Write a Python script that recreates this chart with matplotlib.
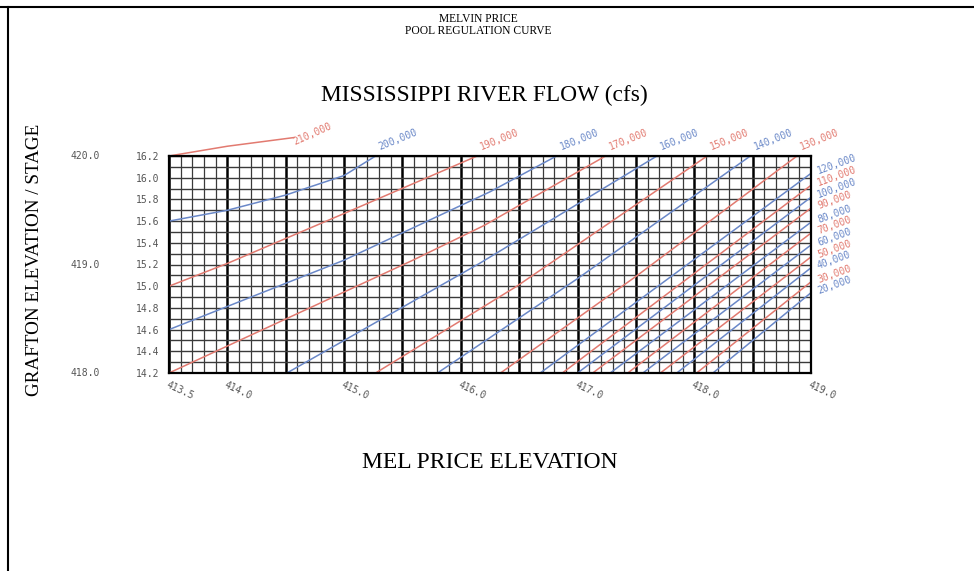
import numpy as np
import matplotlib
matplotlib.use("Agg")
import matplotlib.pyplot as plt
import matplotlib.transforms as mtransforms
from matplotlib.lines import Line2D

# flow curves (cfs): Mel Price elevation vs Grafton stage
flows = [210000, 200000, 190000, 180000, 170000, 160000, 150000, 140000, 130000,
         120000, 110000, 100000, 90000, 80000, 70000, 60000, 50000, 40000, 30000, 20000]
curve_elev = [
    [413.5, 414.0, 414.57],
    [413.5, 414.0, 414.5, 415.0, 415.27],
    [413.5, 414.0, 415.0, 416.14],
    [413.5, 415.0, 416.25, 416.82],
    [413.5, 415.59, 416.2, 417.24],
    [414.51, 416.16, 417.68],
    [415.27, 416.48, 418.11],
    [415.80, 417.0, 418.48],
    [416.34, 417.5, 418.88],
    [416.68, 419.0],
    [416.87, 419.0],
    [417.00, 419.0],
    [417.13, 419.0],
    [417.28, 419.0],
    [417.43, 419.0],
    [417.56, 419.0],
    [417.71, 419.0],
    [417.85, 419.0],
    [418.02, 419.0],
    [418.16, 419.0],
]
curve_stage = [
    [16.20, 16.29, 16.37],
    [15.60, 15.70, 15.84, 16.02, 16.20],
    [15.00, 15.21, 15.67, 16.20],
    [14.60, 15.24, 15.87, 16.20],
    [14.20, 15.24, 15.56, 16.20],
    [14.20, 15.21, 16.20],
    [14.20, 15.00, 16.20],
    [14.20, 15.07, 16.20],
    [14.20, 15.09, 16.20],
    [14.20, 16.04],
    [14.20, 15.93],
    [14.20, 15.82],
    [14.20, 15.72],
    [14.20, 15.59],
    [14.20, 15.49],
    [14.20, 15.38],
    [14.20, 15.27],
    [14.20, 15.17],
    [14.20, 15.04],
    [14.20, 14.94],
]

stage_ticks = [14.2, 14.4, 14.6, 14.8, 15.0, 15.2, 15.4, 15.6, 15.8, 16.0, 16.2]
elev_ticks = [413.5, 414.0, 415.0, 416.0, 417.0, 418.0, 419.0]
grafton_elev = [418.0, 419.0, 420.0]
grafton_stage = [14.2, 15.2, 16.2]

red = "#e27a70"
blue = "#6a88c8"
mono = "DejaVu Sans Mono"
serif = "Liberation Serif"

fig = plt.figure(figsize=(9.74, 5.71), dpi=100)
fig.patch.set_facecolor("white")
ax = fig.add_axes([169/974, 1-373/571, 642/974, 217/571])
ax.set_xlim(413.5, 419.0)
ax.set_ylim(14.2, 16.2)

# graph-paper grid
for x in np.arange(413.5, 419.001, 0.1):
    major = abs((x*2) - round(x*2)) < 1e-6
    ax.axvline(x, color="black" if major else "#3a3a3a",
               lw=1.8 if major else 0.9, zorder=1)
for y in np.arange(14.2, 16.201, 0.1):
    ax.axhline(y, color="#3a3a3a", lw=1.0, zorder=1)

for i, (q, xs, ys) in enumerate(zip(flows, curve_elev, curve_stage)):
    col = red if i % 2 == 0 else blue
    ax.plot(xs, ys, color=col, lw=1.1, zorder=3, clip_on=False)
    lab = f"{q:,}"
    if xs[-1] >= 419.0:
        off, rot = (6, -2), 20
    elif ys[-1] > 16.2:
        off, rot = (1, -7), 24
    else:
        off, rot = (4, 3), 22
    ax.annotate(lab, (xs[-1], ys[-1]), xytext=off, textcoords="offset points",
                color=col, fontsize=7, family=mono, rotation=rot,
                rotation_mode="anchor", ha="left", va="bottom",
                annotation_clip=False)

for s in ax.spines.values():
    s.set_linewidth(1.6)
    s.set_color("black")
    s.set_zorder(4)

ax.set_yticks(stage_ticks)
ax.set_yticklabels([f"{v:.1f}" for v in stage_ticks], family=mono, fontsize=7, color="#555555")
ax.set_xticks(elev_ticks)
ax.set_xticklabels([f"{v:.1f}" for v in elev_ticks], family=mono, fontsize=7, color="#555555",
                   rotation=-25, rotation_mode="anchor", ha="left", va="top")
ax.tick_params(axis="y", length=0, pad=7)
ax.tick_params(axis="x", length=0, pad=5)

trans = mtransforms.blended_transform_factory(ax.transAxes, ax.transData)
for e, s in zip(grafton_elev, grafton_stage):
    ax.text(-0.107, s, f"{e:.1f}", transform=trans, ha="right", va="center",
            family=mono, fontsize=7, color="#555555")

fig.text(478/974, 1-19/571, "MELVIN PRICE", ha="center", va="center", family=serif, fontsize=8.3)
fig.text(478/974, 1-31/571, "POOL REGULATION CURVE", ha="center", va="center", family=serif, fontsize=8.3)
fig.text(484/974, 1-95/571, "MISSISSIPPI RIVER FLOW (cfs)", ha="center", va="center",
         family=serif, fontsize=16.8)
fig.text(35/974, 1-260/571, "GRAFTON ELEVATION / STAGE", ha="center", va="center",
         family=serif, fontsize=13.8, rotation=90)
fig.text(490/974, 1-462/571, "MEL PRICE ELEVATION", ha="center", va="center",
         family=serif, fontsize=17)

# scan border
fig.add_artist(Line2D([0, 1], [1-7/571, 1-7/571], color="black", lw=1.5))
fig.add_artist(Line2D([8/974, 8/974], [0, 1-7/571], color="black", lw=1.5))

fig.savefig("out.png", dpi=100)
